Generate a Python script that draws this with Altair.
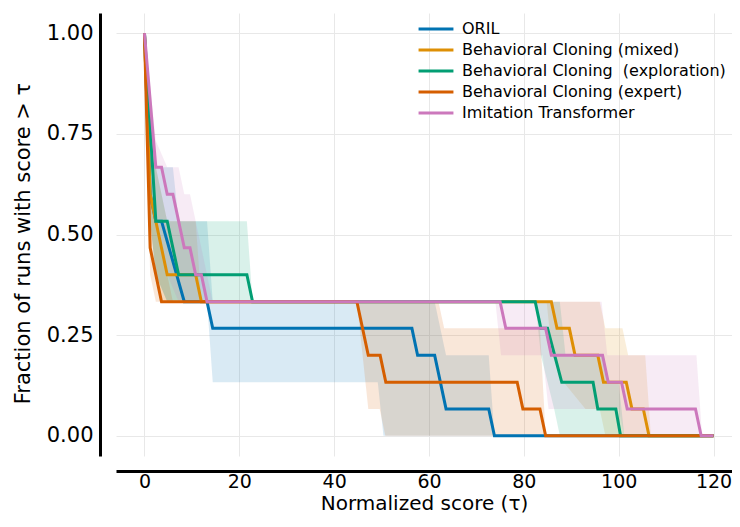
import altair as alt
import pandas as pd

series_names = [
    "ORIL",
    "Behavioral Cloning (mixed)",
    "Behavioral Cloning \u00a0(exploration)",
    "Behavioral Cloning (expert)",
    "Imitation Transformer",
]
series_colors = ["#0173B2", "#DE8F05", "#029E73", "#D55E00", "#CC78BC"]

# ---- point-estimate step curves (tau, fraction of runs > tau) ----
oril_tau = [0, 1.2, 2.4, 3.6, 8.4, 13.2, 14.4, 56.4, 57.6, 61.2, 63.6, 72.6, 73.8, 120]
oril_frac = [1.0, 0.6, 0.533, 0.533, 0.333, 0.333, 0.267, 0.267, 0.2, 0.2, 0.067, 0.067, 0.0, 0.0]

mixed_tau = [0, 1.2, 2.4, 4.8, 10.8, 12.0, 85.8, 87.0, 89.6, 90.8, 95.6, 96.8, 101.6, 102.8, 105.2, 106.4, 120]
mixed_frac = [1.0, 0.6, 0.533, 0.4, 0.4, 0.333, 0.333, 0.267, 0.267, 0.2, 0.2, 0.133, 0.133, 0.067, 0.067, 0.0, 0.0]

explo_tau = [0, 2.4, 4.8, 7.2, 21.6, 22.8, 82.4, 83.6, 85.0, 88.0, 94.6, 95.6, 99.4, 100.4, 120]
explo_frac = [1.0, 0.533, 0.533, 0.4, 0.4, 0.333, 0.333, 0.267, 0.267, 0.133, 0.133, 0.067, 0.067, 0.0, 0.0]

expert_tau = [0, 1.2, 3.6, 44.8, 47.2, 49.7, 50.9, 78.6, 79.8, 83.4, 84.6, 120]
expert_frac = [1.0, 0.467, 0.333, 0.333, 0.2, 0.2, 0.133, 0.133, 0.067, 0.067, 0.0, 0.0]

it_tau = [0, 2.4, 3.6, 4.8, 6.0, 8.4, 9.6, 10.8, 12.0, 13.2, 75.0, 76.2, 84.6, 85.8, 96.6, 97.8,
          100.6, 101.8, 116.2, 117.4, 120]
it_frac = [1.0, 0.667, 0.667, 0.6, 0.6, 0.467, 0.467, 0.4, 0.4, 0.333, 0.333, 0.267, 0.267, 0.2, 0.2,
           0.133, 0.133, 0.067, 0.067, 0.0, 0.0]

# ---- confidence bands (tau, lower, upper) ----
oril_band_tau = [0, 1.2, 2.4, 4.8, 6.0, 7.2, 13.2, 14.4, 49.2, 50.4, 61.2, 63.6, 72.6, 73.8, 120]
oril_band_lo = [1.0, 0.533, 0.4, 0.333, 0.333, 0.333, 0.333, 0.133, 0.133, 0.0, 0.0, 0.0, 0.0, 0.0, 0.0]
oril_band_hi = [1.0, 0.8, 0.667, 0.667, 0.667, 0.533, 0.533, 0.333, 0.333, 0.333, 0.333, 0.2, 0.2, 0.0, 0.0]

mixed_band_tau = [0, 1.2, 2.4, 3.6, 4.8, 10.8, 12.0, 84.8, 86.0, 88.4, 93.0, 96.0, 97.2, 100.8, 102.0,
                  105.6, 106.8, 120]
mixed_band_lo = [1.0, 0.533, 0.4, 0.333, 0.333, 0.333, 0.333, 0.333, 0.2, 0.133, 0.067, 0.067, 0.0, 0.0,
                 0.0, 0.0, 0.0, 0.0]
mixed_band_hi = [1.0, 0.8, 0.667, 0.6, 0.533, 0.533, 0.333, 0.333, 0.333, 0.333, 0.333, 0.333, 0.267,
                 0.267, 0.2, 0.2, 0.0, 0.0]

explo_band_tau = [0, 1.2, 2.4, 4.8, 21.6, 22.8, 82.4, 83.6, 86.4, 87.6, 88.8, 96.8, 98.0, 100.0, 101.2, 120]
explo_band_lo = [1.0, 0.533, 0.4, 0.333, 0.333, 0.333, 0.333, 0.2, 0.067, 0.0, 0.0, 0.0, 0.0, 0.0, 0.0, 0.0]
explo_band_hi = [1.0, 0.8, 0.667, 0.533, 0.533, 0.333, 0.333, 0.333, 0.333, 0.333, 0.2, 0.2, 0.133, 0.133,
                 0.0, 0.0]

expert_band_tau = [0, 1.2, 2.4, 4.8, 6.0, 44.8, 46.0, 47.2, 49.6, 50.8, 62.0, 63.2, 83.4, 84.6, 120]
expert_band_lo = [1.0, 0.4, 0.333, 0.333, 0.333, 0.333, 0.2, 0.067, 0.067, 0.0, 0.0, 0.0, 0.0, 0.0, 0.0]
expert_band_hi = [1.0, 0.6, 0.533, 0.4, 0.333, 0.333, 0.333, 0.333, 0.333, 0.333, 0.333, 0.267, 0.267, 0.0, 0.0]

it_band_tau = [0, 1.2, 2.4, 4.8, 7.2, 8.4, 9.6, 10.8, 12.0, 13.2, 14.4, 74.0, 75.2, 84.0, 85.2, 96.4, 97.6,
               100.0, 101.2, 116.4, 117.6, 120]
it_band_lo = [1.0, 0.6, 0.533, 0.4, 0.333, 0.333, 0.333, 0.333, 0.333, 0.333, 0.333, 0.333, 0.2, 0.2, 0.067,
              0.067, 0.067, 0.067, 0.0, 0.0, 0.0, 0.0]
it_band_hi = [1.0, 0.867, 0.733, 0.667, 0.667, 0.6, 0.6, 0.533, 0.467, 0.4, 0.333, 0.333, 0.333, 0.333, 0.333,
              0.333, 0.2, 0.2, 0.2, 0.2, 0.0, 0.0]

x_ticks = [0, 20, 40, 60, 80, 100, 120]
y_ticks = [0.0, 0.25, 0.5, 0.75, 1.0]

lines = [
    (oril_tau, oril_frac), (mixed_tau, mixed_frac), (explo_tau, explo_frac),
    (expert_tau, expert_frac), (it_tau, it_frac),
]
bands = [
    (oril_band_tau, oril_band_lo, oril_band_hi), (mixed_band_tau, mixed_band_lo, mixed_band_hi),
    (explo_band_tau, explo_band_lo, explo_band_hi), (expert_band_tau, expert_band_lo, expert_band_hi),
    (it_band_tau, it_band_lo, it_band_hi),
]

xscale = alt.Scale(domain=[-6, 123.9], nice=False, zero=False)
yscale = alt.Scale(domain=[-0.05, 1.05], nice=False, zero=False)
cscale = alt.Scale(domain=series_names, range=series_colors)

FONT = "DejaVu Sans"

xaxis = alt.Axis(values=x_ticks, title="Normalized score (τ)", offset=15, labelPadding=1,
                 titlePadding=2, domainWidth=3, domainColor="black", ticks=False,
                 gridColor="#e8e8e8", gridWidth=1, labelFontSize=19, titleFontSize=20,
                 labelFont=FONT, titleFont=FONT, labelColor="black", titleColor="black",
                 titleFontWeight="normal", labelFlush=False)
yaxis = alt.Axis(values=y_ticks, format=".2f", title="Fraction of runs with score > τ", offset=16,
                 labelPadding=7, titlePadding=13, titleY=230, domainWidth=3, domainColor="black",
                 ticks=False, gridColor="#e8e8e8", gridWidth=1, labelFontSize=21, titleFontSize=21,
                 labelFont=FONT, titleFont=FONT, labelColor="black", titleColor="black",
                 titleFontWeight="normal", labelFlush=False)

layers = []
for name, col, (bt, blo, bhi) in zip(series_names, series_colors, bands):
    df = pd.DataFrame({"tau": bt, "lo": blo, "hi": bhi, "series": name})
    layers.append(
        alt.Chart(df).mark_area(opacity=0.15, interpolate="linear", color=col).encode(
            x=alt.X("tau:Q", scale=xscale, axis=xaxis),
            y=alt.Y("lo:Q", scale=yscale, axis=yaxis),
            y2="hi:Q",
        )
    )

legend = alt.Legend(
    title=None, orient="none", legendX=307, legendY=3,
    symbolType="M-1.56,0H1.56", symbolSize=500, symbolStrokeWidth=3,
    labelFontSize=16, labelFont=FONT, labelColor="black",
    rowPadding=-14, labelOffset=13, labelLimit=400,
)

for i, (name, (lt, lf)) in enumerate(zip(series_names, lines)):
    df = pd.DataFrame({"tau": lt, "frac": lf, "series": name, "idx": list(range(len(lt)))})
    layers.append(
        alt.Chart(df).mark_line(strokeWidth=3, interpolate="linear").encode(
            x=alt.X("tau:Q", scale=xscale, axis=xaxis),
            y=alt.Y("frac:Q", scale=yscale, axis=yaxis),
            order="idx:Q",
            color=alt.Color("series:N", scale=cscale, legend=legend),
        )
    )

chart = alt.layer(*layers).properties(
    width=616, height=443,
    padding={"left": 108, "top": 5, "right": 0, "bottom": 63},
    autosize=alt.AutoSizeParams(type="none"),
).configure(background="white").configure_view(stroke=None)

chart.save("out.html", embed_options={"renderer": "svg", "actions": False})
